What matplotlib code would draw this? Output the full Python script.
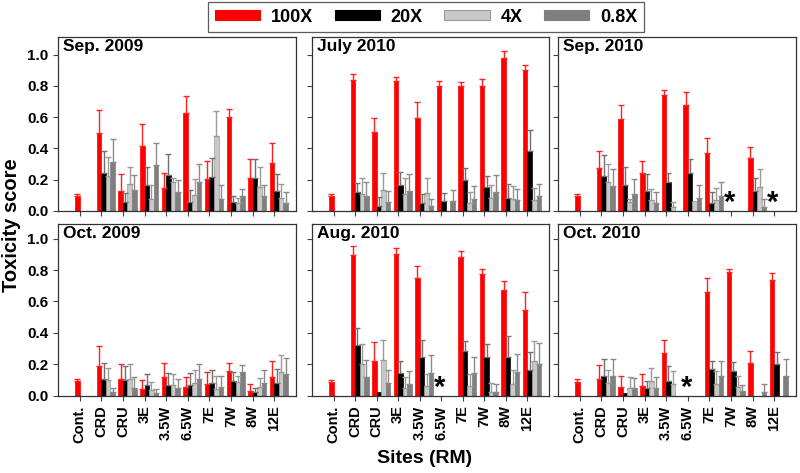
import numpy as np
import matplotlib
matplotlib.use('Agg')
import matplotlib.pyplot as plt
from matplotlib.patches import Patch
from matplotlib.ticker import FormatStrFormatter

plt.rcParams['font.family'] = ['Liberation Sans', 'DejaVu Sans']
plt.rcParams['font.weight'] = 'bold'

nan = np.nan

sites = ['Cont.', 'CRD', 'CRU', '3E', '3.5W', '6.5W', '7E', '7W', '8W', '12E']
doses = ['100X', '20X', '4X', '0.8X']
titles = ['Sep. 2009', 'July 2010', 'Sep. 2010', 'Oct. 2009', 'Aug. 2010', 'Oct. 2010']

# mean toxicity score per dose (100X, 20X, 4X, 0.8X), one list per sampling campaign
sep09_mean = [
    [0.093, 0.499, 0.128, 0.419, 0.147, 0.627, 0.206, 0.602, 0.211, 0.309],
    [nan, 0.242, 0.055, 0.166, 0.229, 0.059, 0.215, 0.057, 0.208, 0.128],
    [nan, 0.223, 0.171, 0.076, 0.183, 0.103, 0.482, 0.053, 0.156, 0.086],
    [nan, 0.316, 0.133, 0.293, 0.122, 0.183, 0.076, 0.097, 0.093, 0.051],
]
sep09_err = [
    [0.014, 0.145, 0.106, 0.135, 0.097, 0.108, 0.112, 0.053, 0.120, 0.125],
    [0, 0.139, 0.063, 0.114, 0.137, 0.076, 0.126, 0.036, 0.127, 0.110],
    [0, 0.122, 0.111, 0.090, 0.030, 0.099, 0.156, 0.033, 0.126, 0.089],
    [0, 0.145, 0.096, 0.143, 0.074, 0.120, 0.088, 0.042, 0.075, 0.069],
]

jul10_mean = [
    [0.093, 0.836, 0.505, 0.832, 0.596, 0.798, 0.800, 0.798, 0.977, 0.899],
    [nan, 0.122, 0.032, 0.166, 0.053, 0.065, 0.200, 0.154, 0.082, 0.383],
    [nan, 0.109, 0.137, 0.107, 0.116, 0.0, 0.053, 0.084, 0.078, 0.069],
    [nan, 0.093, 0.057, 0.128, 0.029, 0.063, 0.078, 0.124, 0.069, 0.095],
]
jul10_err = [
    [0.014, 0.040, 0.089, 0.027, 0.103, 0.036, 0.025, 0.048, 0.046, 0.034],
    [0, 0.059, 0.056, 0.085, 0.054, 0.051, 0.078, 0.069, 0.089, 0.135],
    [0, 0.102, 0.103, 0.101, 0.097, 0, 0.067, 0.080, 0.084, 0.076],
    [0, 0.090, 0.069, 0.106, 0.047, 0.074, 0.080, 0.105, 0.070, 0.078],
]

sep10_mean = [
    [0.093, 0.274, 0.587, 0.246, 0.741, 0.678, 0.368, nan, 0.339, nan],
    [nan, 0.225, 0.166, 0.128, 0.185, 0.240, 0.051, nan, 0.126, nan],
    [nan, 0.183, 0.055, 0.072, 0.023, 0.061, 0.069, nan, 0.154, nan],
    [nan, 0.158, 0.109, 0.051, 0.0, 0.084, 0.095, nan, 0.025, nan],
]
sep10_err = [
    [0.014, 0.107, 0.091, 0.074, 0.036, 0.084, 0.097, 0, 0.072, 0],
    [0, 0.135, 0.114, 0.108, 0.055, 0.091, 0.071, 0, 0.087, 0],
    [0, 0.120, 0.020, 0.071, 0.034, 0, 0.078, 0, 0.113, 0],
    [0, 0.109, 0.097, 0.069, 0, 0.082, 0.088, 0, 0.051, 0],
]

oct09_mean = [
    [0.093, 0.192, 0.109, 0.044, 0.116, 0.053, 0.074, 0.160, 0.027, 0.122],
    [nan, 0.109, 0.099, 0.067, 0.069, 0.067, 0.080, 0.095, 0.023, 0.084],
    [nan, 0.099, 0.109, 0.036, 0.065, 0.082, 0.040, 0.088, 0.053, 0.154],
    [nan, 0.025, 0.051, 0.017, 0.051, 0.107, 0.055, 0.152, 0.080, 0.141],
]
oct09_err = [
    [0.014, 0.122, 0.095, 0.053, 0.092, 0.069, 0.080, 0.046, 0.049, 0.097],
    [0, 0.102, 0.093, 0.074, 0.078, 0.078, 0.084, 0.057, 0.028, 0.087],
    [0, 0.078, 0.093, 0.052, 0.070, 0.080, 0.084, 0.038, 0.061, 0.103],
    [0, 0.021, 0.069, 0.025, 0.058, 0.097, 0.071, 0.046, 0.082, 0.099],
]

aug10_mean = [
    [0.088, 0.897, 0.221, 0.899, 0.752, nan, 0.884, 0.775, 0.674, 0.543],
    [nan, 0.322, 0.025, 0.145, 0.244, nan, 0.282, 0.246, 0.244, 0.162],
    [nan, 0.202, 0.225, 0.051, 0.063, nan, 0.059, 0.023, 0.074, 0.221],
    [nan, 0.122, 0.080, 0.074, 0.145, nan, 0.143, 0.023, 0.149, 0.204],
]
aug10_err = [
    [0.015, 0.057, 0.122, 0.040, 0.071, 0, 0.036, 0.031, 0.057, 0.116],
    [0, 0.110, 0, 0.078, 0.110, 0, 0.067, 0.080, 0.139, 0.114],
    [0, 0.124, 0.131, 0.069, 0.072, 0, 0.080, 0.055, 0.088, 0.126],
    [0, 0.103, 0.082, 0.082, 0.112, 0, 0.105, 0.051, 0.116, 0.131],
]

oct10_mean = [
    [0.090, 0.107, 0.055, 0.063, 0.272, nan, 0.661, 0.785, 0.208, 0.737],
    [nan, 0.126, 0.017, 0.046, 0.095, nan, 0.168, 0.160, 0.0, 0.200],
    [nan, 0.080, 0.051, 0.095, 0.074, nan, 0.076, 0.055, 0.0, 0.0],
    [nan, 0.126, 0.051, 0.048, 0.0, nan, 0.126, 0.027, 0.023, 0.126],
]
oct10_err = [
    [0.015, 0.089, 0.069, 0.072, 0.084, 0, 0.091, 0.021, 0.078, 0.042],
    [0, 0.108, 0, 0.050, 0.094, 0, 0.055, 0.053, 0, 0.080],
    [0, 0.082, 0.065, 0.082, 0.086, 0, 0.082, 0.071, 0, 0],
    [0, 0.106, 0.061, 0.070, 0, 0, 0.097, 0.040, 0.049, 0.108],
]

# sites with no data, marked with an asterisk
no_data = [[], [], [7, 9], [], [5], [5]]

means = [sep09_mean, jul10_mean, sep10_mean, oct09_mean, aug10_mean, oct10_mean]
errs = [sep09_err, jul10_err, sep10_err, oct09_err, aug10_err, oct10_err]

bar_colors = ['#ff0000', '#000000', '#c8c8c8', '#7f7f7f']
edge_colors = ['#ff0000', '#000000', '#9a9a9a', '#7f7f7f']
err_colors = ['#ff2020', '#707070', '#9a9a9a', '#8a8a8a']

W, H = 800, 473
fig = plt.figure(figsize=(W / 100, H / 100), dpi=100)

cols = [(58, 296), (312, 549), (558, 796)]
rows = [(36.7, 211.0), (223.7, 395.7)]
ytops = [1.115, 1.095]

width = 0.21
offsets = [-0.105, 0.105, 0.315, 0.525]
x = np.arange(len(sites))

for k in range(6):
    r, c = divmod(k, 3)
    x0, x1 = cols[c]
    y0, y1 = rows[r]
    ax = fig.add_axes([x0 / W, 1 - y1 / H, (x1 - x0) / W, (y1 - y0) / H])

    for j in range(4):
        vals = np.array(means[k][j], dtype=float)
        e = np.array(errs[k][j], dtype=float)
        xs = x + offsets[j]
        ax.bar(xs, vals, width, color=bar_colors[j], edgecolor=edge_colors[j],
               linewidth=0.5, zorder=2)
        m = (e > 0) & ~np.isnan(vals)
        ax.errorbar(xs[m], vals[m], yerr=[np.zeros(m.sum()), e[m]], fmt='none',
                    ecolor=err_colors[j], elinewidth=1.0, capsize=2.0,
                    capthick=1.0, zorder=3)

    for i in no_data[k]:
        ax.text(i - 0.08, 0.0, '*', ha='center', va='baseline', fontsize=21,
                fontweight='bold', color='black')

    ax.set_xlim(-1.0, 10.0)
    ax.set_ylim(0, ytops[r])
    ax.set_yticks([0, 0.2, 0.4, 0.6, 0.8, 1.0])
    ax.yaxis.set_major_formatter(FormatStrFormatter('%.1f'))
    ax.set_xticks(x)
    ax.tick_params(axis='both', direction='out', length=3.5, width=0.8,
                   color='#444444', labelsize=11)
    if r == 1:
        ax.set_xticklabels(sites, rotation=90, fontsize=10.5, fontweight='bold')
    else:
        ax.set_xticklabels([])
    if c != 0:
        ax.set_yticklabels([])
    for sp in ax.spines.values():
        sp.set_color('#333333')
        sp.set_linewidth(0.9)
    ax.annotate(titles[k], xy=(0, 1), xycoords='axes fraction', xytext=(3.5, -2),
                textcoords='offset points', ha='left', va='top', fontsize=12.5,
                fontweight='bold')

fig.text(12 / W, 1 - 225 / H, 'Toxicity score', rotation=90, ha='center',
         va='center', fontsize=14.5, fontweight='bold')
fig.text(425 / W, 1 - 458 / H, 'Sites (RM)', ha='center', va='center',
         fontsize=14, fontweight='bold')

handles = [Patch(facecolor=bar_colors[j], edgecolor=edge_colors[j], linewidth=0.8)
           for j in range(4)]
leg = fig.legend(handles, doses, loc='center', bbox_to_anchor=(426 / W, 1 - 17 / H),
                 ncol=4, frameon=True, fancybox=False,
                 edgecolor='#333333', handlelength=2.5, handleheight=0.5,
                 handletextpad=0.6, columnspacing=1.2, borderpad=0.35,
                 prop={'weight': 'bold', 'size': 13})
leg.get_frame().set_linewidth(0.9)

fig.savefig('out.png', dpi=100)
